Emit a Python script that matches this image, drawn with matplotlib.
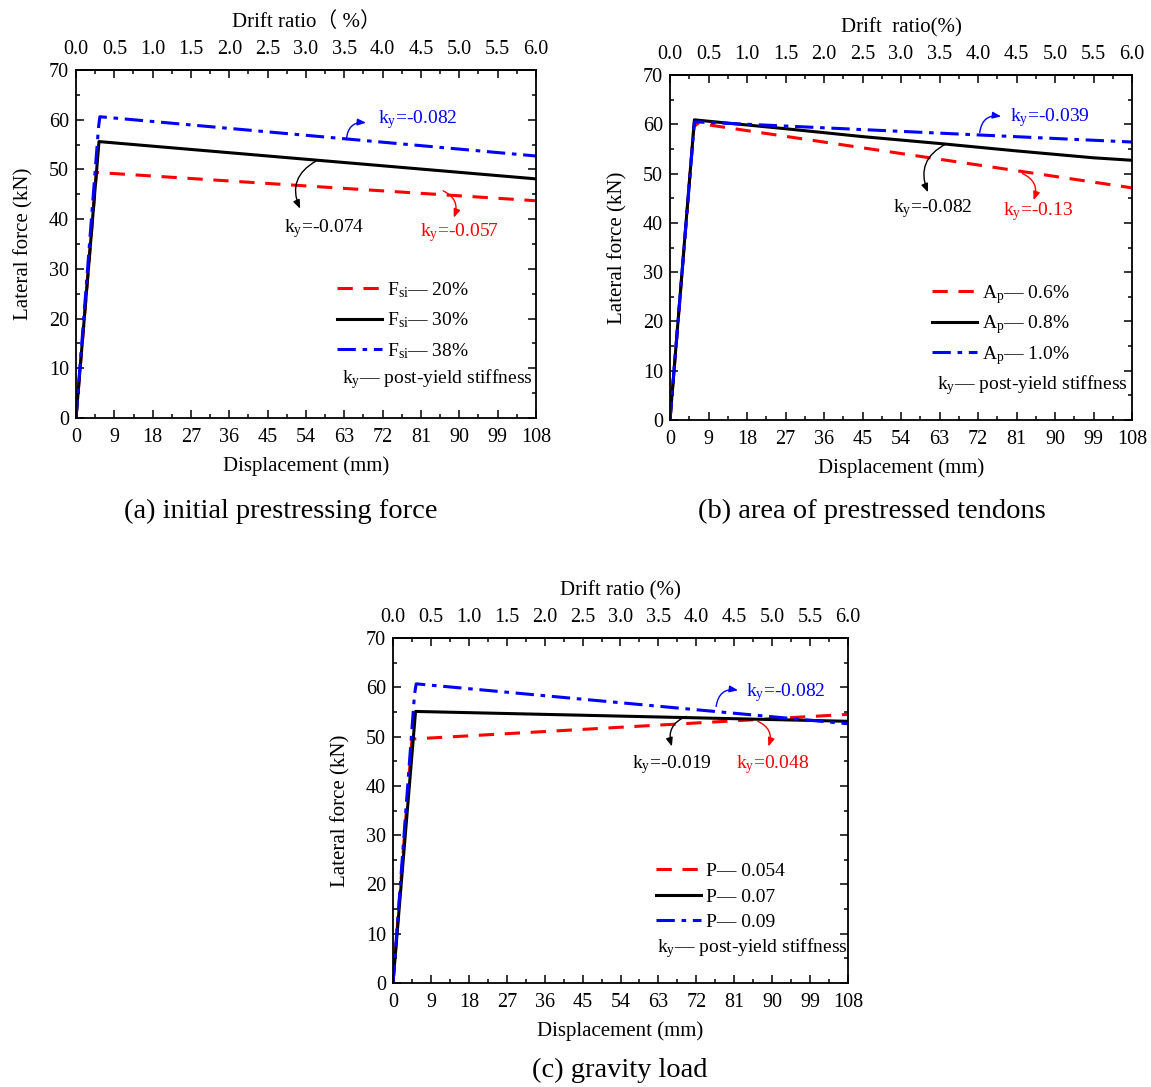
import matplotlib
matplotlib.use("Agg")
import matplotlib.pyplot as plt
from matplotlib.ticker import MultipleLocator, FormatStrFormatter

# ================= DATA =================
# (a) initial prestressing force
disp_a_red = [0, 4.8, 108]
force_a_red = [0, 49.4, 43.7]
disp_a_black = [0, 5.4, 108]
force_a_black = [0, 55.6, 48.1]
disp_a_blue = [0, 5.3, 5.6, 108]
force_a_blue = [0, 58.6, 60.6, 52.7]

# (b) area of prestressed tendons
disp_b_red = [0, 5.6, 6.5, 108]
force_b_red = [0, 59.5, 60.2, 47.1]
disp_b_black = [0, 5.7, 27, 45, 63, 81, 99, 108]
force_b_black = [0, 60.9, 59.1, 57.5, 56.1, 54.6, 53.2, 52.7]
disp_b_blue = [0, 5.7, 108]
force_b_blue = [0, 60.5, 56.4]

# (c) gravity load
disp_c_red = [0, 4.5, 108]
force_c_red = [0, 49.5, 54.5]
disp_c_black = [0, 5.35, 108]
force_c_black = [0, 55.1, 53.1]
disp_c_blue = [0, 5.1, 5.5, 108]
force_c_blue = [0, 58.5, 60.7, 52.6]

labels_a = [r"F$_\mathregular{si}$— 20%", r"F$_\mathregular{si}$— 30%", r"F$_\mathregular{si}$— 38%"]
labels_b = [r"A$_\mathregular{p}$— 0.6%", r"A$_\mathregular{p}$— 0.8%", r"A$_\mathregular{p}$— 1.0%"]
labels_c = ["P— 0.054", "P— 0.07", "P— 0.09"]

ky_a = ["-0.057", "-0.074", "-0.082"]
ky_b = ["-0.13", "-0.082", "-0.039"]
ky_c = ["0.048", "-0.019", "-0.082"]

captions = ["(a) initial prestressing force", "(b) area of prestressed tendons", "(c) gravity load"]
top_titles = ["Drift ratio（ %）", "Drift  ratio(%)", "Drift ratio (%)"]
# ========================================

plt.rcParams["font.family"] = ["Liberation Serif", "Noto Sans CJK SC", "DejaVu Sans"]
plt.rcParams["mathtext.fontset"] = "custom"
plt.rcParams["mathtext.rm"] = "Liberation Serif"
plt.rcParams["mathtext.it"] = "Liberation Serif:italic"
plt.rcParams["axes.linewidth"] = 1.3

W, H = 1151, 1087
fig = plt.figure(figsize=(W / 100, H / 100), dpi=100)

TICK_FS = 14.5
LABEL_FS = 15
NOTE_FS = 14


def make_axes(left, right, top, bottom):
    return fig.add_axes([left / W, 1 - bottom / H, (right - left) / W, (bottom - top) / H])


STYLES = [
    dict(color="red", ls=(0, (5, 3.5)), lw=2.2),
    dict(color="black", ls="-", lw=2.2),
    dict(color="blue", ls=(0, (6, 2.2, 1.5, 2.2)), lw=2.2),
]


def setup_axes(ax, title):
    ax.set_xlim(0, 108)
    ax.set_ylim(0, 70)
    ax.xaxis.set_major_locator(MultipleLocator(9))
    ax.xaxis.set_minor_locator(MultipleLocator(4.5))
    ax.yaxis.set_major_locator(MultipleLocator(10))
    ax.yaxis.set_minor_locator(MultipleLocator(5))
    ax.tick_params(which="both", direction="in", right=True, labelsize=TICK_FS, width=1.1)
    ax.tick_params(which="major", length=6)
    ax.tick_params(which="minor", length=3)
    ax.tick_params(axis="x", pad=7)
    ax.tick_params(axis="y", pad=5)
    ax.set_xlabel("Displacement (mm)", fontsize=LABEL_FS, labelpad=7)
    ax.set_ylabel("Lateral force (kN)", fontsize=LABEL_FS, labelpad=11)
    sec = ax.secondary_xaxis("top", functions=(lambda x: x / 18.0, lambda p: p * 18.0))
    sec.xaxis.set_major_locator(MultipleLocator(0.5))
    sec.xaxis.set_minor_locator(MultipleLocator(0.25))
    sec.xaxis.set_major_formatter(FormatStrFormatter("%.1f"))
    sec.tick_params(which="both", direction="in", labelsize=TICK_FS, width=1.1, pad=8)
    sec.tick_params(which="major", length=6)
    sec.tick_params(which="minor", length=3)
    sec.set_xlabel(title, fontsize=LABEL_FS, labelpad=9)


def add_legend(ax, labels, anchor, spacing, note_xy):
    ax.legend(labels, loc="upper left", bbox_to_anchor=anchor, frameon=False,
              fontsize=NOTE_FS, handlelength=2.3, handletextpad=0.25,
              labelspacing=spacing, borderaxespad=0, borderpad=0)
    ax.text(note_xy[0], note_xy[1], r"k$_\mathregular{y}$— post-yield stiffness",
            fontsize=NOTE_FS, va="center", ha="left")


def add_ky(ax, value, color, text_xy, start, end, rad):
    ax.text(text_xy[0], text_xy[1], r"k$_\mathregular{y}$=" + value, color=color,
            fontsize=NOTE_FS, va="center", ha="left")
    ax.annotate("", xy=end, xytext=start,
                arrowprops=dict(arrowstyle="-|>,head_length=0.5,head_width=0.2",
                                color=color, lw=1, connectionstyle=f"arc3,rad={rad}",
                                shrinkA=0, shrinkB=0))


# ---------- (a) ----------
ax = make_axes(76, 536, 70, 418)
for d, f, st in zip([disp_a_red, disp_a_black, disp_a_blue],
                    [force_a_red, force_a_black, force_a_blue], STYLES):
    ax.plot(d, f, **st)
setup_axes(ax, top_titles[0])
add_legend(ax, labels_a, (0.568, 0.396), 0.55, (62.5, 7.9))
add_ky(ax, ky_a[2], "blue", (71.0, 60.0), (63.5, 56.0), (68.1, 59.4), -0.5)
add_ky(ax, ky_a[1], "black", (48.8, 38.1), (56.4, 51.7), (52.6, 42.1), 0.45)
add_ky(ax, ky_a[0], "red", (80.7, 37.4), (86.2, 45.7), (88.7, 40.3), -0.45)
fig.text(281 / W, 1 - 511 / H, captions[0], fontsize=20.5, ha="center", va="center")

# ---------- (b) ----------
ax = make_axes(670, 1132, 75, 420)
for d, f, st in zip([disp_b_red, disp_b_black, disp_b_blue],
                    [force_b_red, force_b_black, force_b_blue], STYLES):
    ax.plot(d, f, **st)
setup_axes(ax, top_titles[1])
add_legend(ax, labels_b, (0.568, 0.398), 0.4, (62.5, 7.0))
add_ky(ax, ky_b[2], "blue", (79.5, 61.4), (72.4, 58.3), (77.4, 61.6), -0.5)
add_ky(ax, ky_b[1], "black", (52.1, 43.0), (64.5, 56.0), (60.3, 46.2), 0.45)
add_ky(ax, ky_b[0], "red", (77.8, 42.3), (82.4, 50.0), (85.0, 44.6), -0.45)
fig.text(872 / W, 1 - 511 / H, captions[1], fontsize=20.5, ha="center", va="center")

# ---------- (c) ----------
ax = make_axes(393, 848, 638, 983)
for d, f, st in zip([disp_c_red, disp_c_black, disp_c_blue],
                    [force_c_red, force_c_black, force_c_blue], STYLES):
    ax.plot(d, f, **st)
setup_axes(ax, top_titles[2])
add_legend(ax, labels_c, (0.578, 0.349), 0.4, (62.6, 7.1))
add_ky(ax, ky_c[2], "blue", (83.8, 59.0), (76.7, 56.1), (81.9, 59.4), -0.5)
add_ky(ax, ky_c[1], "black", (56.8, 44.3), (69.6, 54.1), (66.2, 48.0), 0.45)
add_ky(ax, ky_c[0], "red", (81.5, 44.3), (86.6, 53.1), (89.1, 48.0), -0.45)
fig.text(620 / W, 1 - 1070 / H, captions[2], fontsize=20.5, ha="center", va="center")

fig.savefig("out.png", dpi=100)
